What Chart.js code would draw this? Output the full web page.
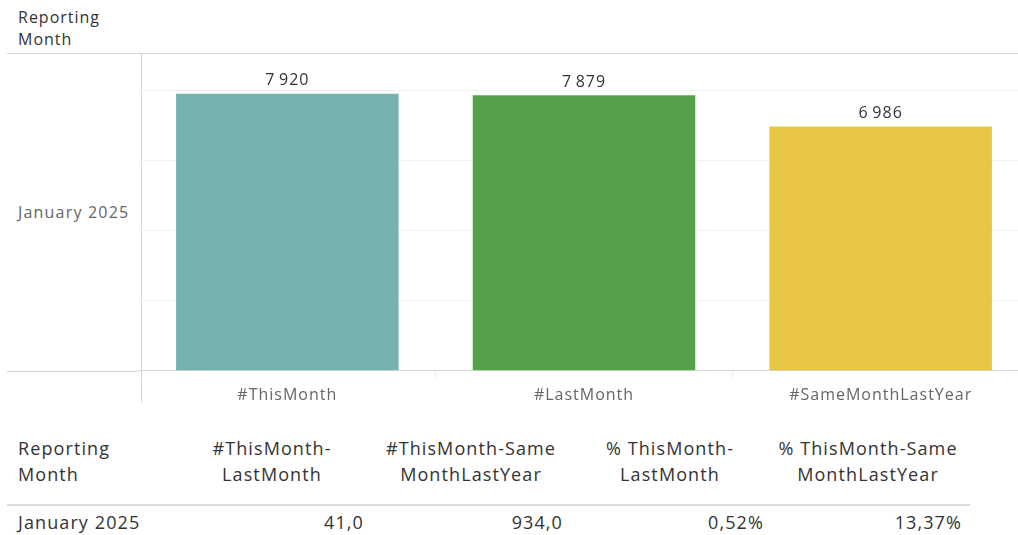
<!DOCTYPE html>
<html>
<head>
<meta charset="utf-8">
<script src="https://cdn.jsdelivr.net/npm/chart.js@4.4.1/dist/chart.umd.min.js"></script>
<style>
    html, body { margin: 0; padding: 0; background: #fff; width: 1018px; height: 535px; overflow: hidden; }
    body { position: relative; font-family: "Open Sans", sans-serif; color: #333; }
    .abs { position: absolute; white-space: nowrap; }
    #chartBox { position: absolute; left: 0; top: 53px; width: 1030px; height: 360px; }
    .hdr { font-size: 16px; line-height: 22px; letter-spacing: 1px; color: #333; }
    .rowlabel { font-size: 16px; letter-spacing: 1.2px; color: #666; }
    .th { font-size: 18px; line-height: 26px; letter-spacing: 1.1px; text-align: center; color: #333; }
    .td { font-size: 18px; letter-spacing: 1.1px; text-align: right; color: #333; }
    .rule { position: absolute; height: 2px; background: #dcdcdc; }
</style>
</head>
<body>
<div class="abs hdr" style="left:18px; top:6px;">Reporting<br>Month</div>
<div class="abs rowlabel" id="rowLabel" style="left:18px; top:201px;"></div>
<div id="chartBox"><canvas id="barChart" width="1030" height="360"></canvas></div>

<div class="abs th" style="left:18px; top:435px; text-align:left;">Reporting<br>Month</div>
<div id="table"></div>
<div class="rule" style="left:7px; top:504px; width:963px;"></div>

<script>
const reportingMonth = 'January 2025';
const categories = ['#ThisMonth', '#LastMonth', '#SameMonthLastYear'];
const values = [7920, 7879, 6986];
const barColors = ['#76b2ae', '#56a04b', '#e8c646'];
const gridValues = [0, 2000, 4000, 6000, 8000];

const tableHeaders = [['#ThisMonth-', 'LastMonth'], ['#ThisMonth-Same', 'MonthLastYear'], ['% ThisMonth-', 'LastMonth'], ['% ThisMonth-Same', 'MonthLastYear']];
const tableValues = ['41,0', '934,0', '0,52%', '13,37%'];
const tableCenters = [272, 471, 670, 868];
const tableRights = [364, 563, 764, 962];

document.getElementById('rowLabel').textContent = reportingMonth;

const tableDiv = document.getElementById('table');
tableHeaders.forEach((h, i) => {
    const d = document.createElement('div');
    d.className = 'abs th';
    d.style.left = (tableCenters[i] - 100) + 'px';
    d.style.width = '200px';
    d.style.top = '435px';
    d.innerHTML = h.join('<br>');
    tableDiv.appendChild(d);
});
const rl = document.createElement('div');
rl.className = 'abs th';
rl.style.left = '18px';
rl.style.top = '509px';
rl.textContent = reportingMonth;
tableDiv.appendChild(rl);
tableValues.forEach((v, i) => {
    const d = document.createElement('div');
    d.className = 'abs td';
    d.style.left = (tableRights[i] - 200) + 'px';
    d.style.width = '200px';
    d.style.top = '509px';
    d.style.lineHeight = '26px';
    d.textContent = v;
    tableDiv.appendChild(d);
});

function fmt(n) {
    return String(n).replace(/\B(?=(\d{3})+(?!\d))/g, '\u2009');
}

const frame = {
    id: 'frame',
    beforeDraw(chart) {
        const { ctx, chartArea } = chart;
        ctx.letterSpacing = '1px';
        ctx.save();
        ctx.strokeStyle = '#d4d4d4';
        ctx.lineWidth = 1;
        ctx.beginPath();
        ctx.moveTo(7, chartArea.top + 0.5);
        ctx.lineTo(chart.width, chartArea.top + 0.5);
        ctx.moveTo(7, chartArea.bottom + 0.5);
        ctx.lineTo(chartArea.left, chartArea.bottom + 0.5);
        ctx.moveTo(141.5, chartArea.top);
        ctx.lineTo(141.5, chartArea.bottom + 32);
        ctx.stroke();
        ctx.restore();
    },
    afterDatasetsDraw(chart) {
        const { ctx } = chart;
        const meta = chart.getDatasetMeta(0);
        ctx.save();
        ctx.fillStyle = '#333';
        ctx.font = '16px "Open Sans", sans-serif';
        ctx.textAlign = 'center';
        ctx.textBaseline = 'bottom';
        meta.data.forEach((bar, i) => {
            ctx.fillText(fmt(values[i]), bar.x, bar.y - 5);
        });
        ctx.restore();
    }
};

new Chart(document.getElementById('barChart').getContext('2d'), {
    type: 'bar',
    data: {
        labels: categories,
        datasets: [{
            data: values,
            backgroundColor: barColors,
            categoryPercentage: 1,
            barPercentage: 0.75
        }]
    },
    options: {
        responsive: false,
        animation: false,
        layout: { padding: { left: 139, right: 1, top: 0, bottom: 0 } },
        plugins: { legend: { display: false }, tooltip: { enabled: false } },
        scales: {
            x: {
                offset: true,
                grid: { drawOnChartArea: false, color: '#ececec', tickLength: 7 },
                border: { color: '#d4d4d4' },
                ticks: { color: '#666', font: { family: 'Open Sans', size: 16 }, padding: 8 }
            },
            y: {
                min: 0,
                max: 9086,
                afterBuildTicks: axis => { axis.ticks = gridValues.map(v => ({ value: v })); },
                ticks: { display: false },
                grid: { color: '#f0f0f0', drawTicks: false },
                border: { display: false }
            }
        }
    },
    plugins: [frame]
});
</script>
</body>
</html>
